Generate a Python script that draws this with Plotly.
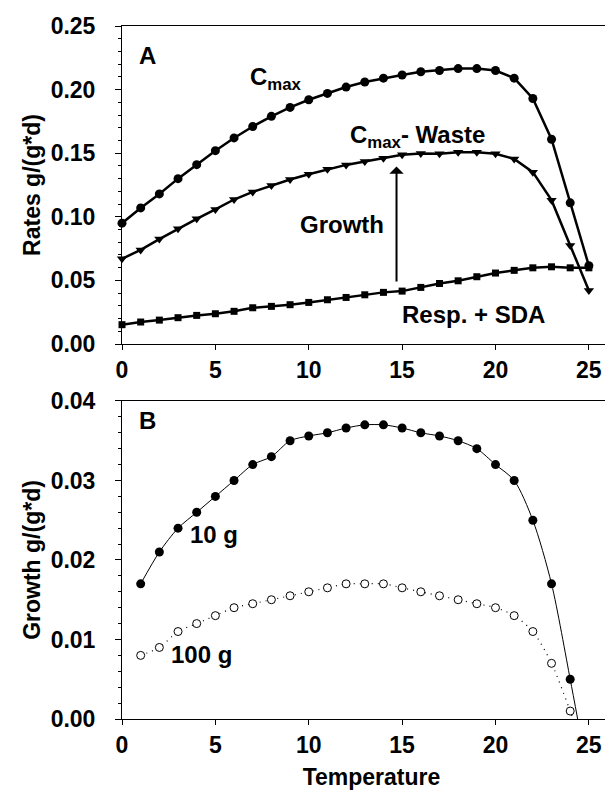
import plotly.graph_objects as go

# ---------------- data ----------------
temp_a = list(range(0, 26))
cmax = [0.095, 0.107, 0.118, 0.130, 0.141, 0.152, 0.162, 0.171, 0.179, 0.186,
        0.192, 0.197, 0.202, 0.206, 0.209, 0.2115, 0.214, 0.215, 0.2165, 0.2165,
        0.215, 0.209, 0.193, 0.161, 0.111, 0.0615]
cmax_waste = [0.067, 0.074, 0.0825, 0.0906, 0.0984, 0.1058, 0.1136, 0.1196, 0.1246, 0.1293,
              0.1335, 0.1374, 0.1408, 0.1435, 0.1461, 0.1487, 0.1497, 0.1495, 0.1508, 0.1508,
              0.1495, 0.1455, 0.1351, 0.1131, 0.0775, 0.042]
resp_sda = [0.0152, 0.0173, 0.0188, 0.0207, 0.0225, 0.0238, 0.0257, 0.0285, 0.0296, 0.0309,
            0.0327, 0.0348, 0.0366, 0.0387, 0.0406, 0.0416, 0.0445, 0.0476, 0.0497, 0.0529,
            0.0558, 0.0579, 0.0599, 0.0607, 0.0599, 0.0599]

temp_b = list(range(1, 25))
growth_10g = [0.017, 0.021, 0.024, 0.026, 0.028, 0.030, 0.032, 0.033, 0.035, 0.0356,
              0.036, 0.0366, 0.037, 0.037, 0.0366, 0.036, 0.0356, 0.035, 0.034, 0.032,
              0.030, 0.025, 0.017, 0.005]
growth_100g = [0.008, 0.009, 0.011, 0.012, 0.013, 0.014, 0.0145, 0.015, 0.0155, 0.016,
               0.0165, 0.017, 0.017, 0.017, 0.0165, 0.016, 0.0155, 0.015, 0.0145, 0.014,
               0.013, 0.011, 0.007, 0.001]
zero_temp_10g = 24.4    # where the fitted 10 g curve reaches zero growth
zero_temp_100g = 24.15  # where the fitted 100 g curve reaches zero growth

x_ticks = [0, 5, 10, 15, 20, 25]

# ---------------- figure ----------------
FONT = "Liberation Sans, Arial, sans-serif"
TICK_SIZE = 23
fig = go.Figure()

line_a = dict(color="black", width=2.5)
fig.add_trace(go.Scatter(x=temp_a, y=cmax, mode="lines+markers", line=line_a,
                         marker=dict(symbol="circle", size=9, color="black"),
                         cliponaxis=False, xaxis="x", yaxis="y"))
fig.add_trace(go.Scatter(x=temp_a, y=cmax_waste, mode="lines+markers", line=line_a,
                         marker=dict(symbol="triangle-down", size=9, color="black"),
                         cliponaxis=False, xaxis="x", yaxis="y"))
fig.add_trace(go.Scatter(x=temp_a, y=resp_sda, mode="lines+markers", line=line_a,
                         marker=dict(symbol="square", size=7, color="black"),
                         cliponaxis=False, xaxis="x", yaxis="y"))

# panel B curves
fig.add_trace(go.Scatter(x=temp_b + [zero_temp_10g], y=growth_10g + [0], mode="lines",
                         line=dict(color="black", width=1, shape="spline", smoothing=0.8),
                         xaxis="x2", yaxis="y2"))
fig.add_trace(go.Scatter(x=temp_b, y=growth_10g, mode="markers",
                         marker=dict(symbol="circle", size=9, color="black"),
                         cliponaxis=False, xaxis="x2", yaxis="y2"))
fig.add_trace(go.Scatter(x=temp_b + [zero_temp_100g], y=growth_100g + [0], mode="lines",
                         line=dict(color="black", width=1.2, dash="1px,5px", shape="spline",
                                   smoothing=0.8),
                         xaxis="x2", yaxis="y2"))
fig.add_trace(go.Scatter(x=temp_b, y=growth_100g, mode="markers",
                         marker=dict(symbol="circle", size=8, color="white",
                                     line=dict(color="black", width=1)),
                         cliponaxis=False, xaxis="x2", yaxis="y2"))

xcommon = dict(range=[0, 26.72], tickvals=x_ticks, ticks="outside", ticklen=5, tickwidth=1,
               tickcolor="black", showline=True, linecolor="black", linewidth=1,
               mirror=True, showgrid=False, zeroline=False,
               tickfont=dict(size=TICK_SIZE, family=FONT, color="black", weight="bold"),
               ticklabelstandoff=0)
ycommon = dict(ticks="outside", ticklen=6, tickwidth=1, tickcolor="black",
               showline=True, linecolor="black", linewidth=1, showgrid=False, zeroline=False,
               tickfont=dict(size=TICK_SIZE, family=FONT, color="black", weight="bold"),
               ticklabelstandoff=15, tickformat=".2f")

fig.update_layout(
    width=613, height=792,
    margin=dict(l=114, r=0, t=18, b=81),
    paper_bgcolor="white", plot_bgcolor="white",
    showlegend=False,
    font=dict(family=FONT, color="black", size=22, weight="bold"),
    xaxis=dict(xcommon, anchor="y", domain=[0, 1]),
    yaxis=dict(ycommon, anchor="x", domain=[0.5411, 1], range=[0, 0.25], dtick=0.05,
               minor=dict(dtick=0.01, ticks="outside", ticklen=3, tickcolor="black"),
               title=dict(text="Rates g/(g*d)", standoff=3,
                          font=dict(size=23, family=FONT, weight="bold"))),
    xaxis2=dict(xcommon, anchor="y2", domain=[0, 1],
                title=dict(text="Temperature", standoff=12,
                           font=dict(size=23, family=FONT, weight="bold"))),
    yaxis2=dict(ycommon, anchor="x2", domain=[0, 0.4589], range=[0, 0.04], dtick=0.01,
                minor=dict(dtick=0.002, ticks="outside", ticklen=3, tickcolor="black"),
                title=dict(text="Growth g/(g*d)", standoff=3,
                           font=dict(size=23, family=FONT, weight="bold"))),
)

def label(text, x, y, xref="x", yref="y", size=24):
    fig.add_annotation(text=text, x=x, y=y, xref=xref, yref=yref, showarrow=False,
                       font=dict(size=size, family=FONT, color="black", weight="bold"))

label("A", 1.34, 0.227)
label("C<sub>max</sub>", 8.25, 0.209)
label("C<sub>max</sub>- Waste", 15.84, 0.163)
label("Growth", 11.8, 0.094)
label("Resp. + SDA", 18.83, 0.023)
label("B", 1.34, 0.0375, "x2", "y2")
label("10 g", 4.94, 0.0232, "x2", "y2")
label("100 g", 4.27, 0.0081, "x2", "y2")

fig.add_annotation(x=14.7, y=0.1395, ax=14.7, ay=0.048, xref="x", yref="y",
                   axref="x", ayref="y", text="", showarrow=True,
                   arrowhead=1, arrowsize=1.2, arrowwidth=2, arrowcolor="black")

fig.write_html("out.html")
